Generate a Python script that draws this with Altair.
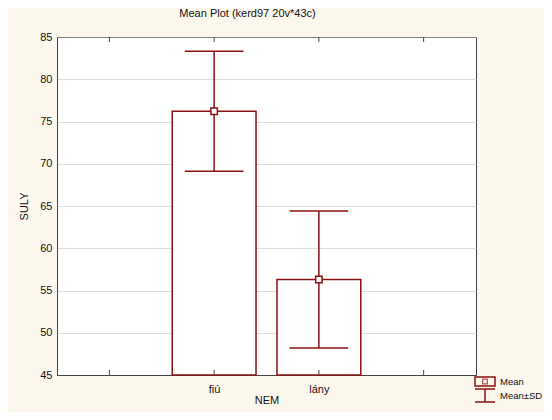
import altair as alt
import pandas as pd

# ---- data ----
categories = ["fiú", "lány"]
positions = [2, 3]
means = [76.2, 56.3]
sds = [7.1, 8.1]
tick_positions = [1, 2, 3, 4]
tick_labels = ["", "fiú", "lány", ""]
y_ticks = [45, 50, 55, 60, 65, 70, 75, 80, 85]
y_base = 45

BAR_HALF = 0.4
CAP_HALF = 0.28
RED = "#8b1010"
FONT = "Liberation Sans"

df = pd.DataFrame({"cat": categories, "pos": positions, "mean": means, "sd": sds})
df["lo"] = df["mean"] - df["sd"]
df["hi"] = df["mean"] + df["sd"]
df["x0"] = df["pos"] - BAR_HALF
df["x1"] = df["pos"] + BAR_HALF
df["c0"] = df["pos"] - CAP_HALF
df["c1"] = df["pos"] + CAP_HALF
df["base"] = y_base

ticks_df = pd.DataFrame({"pos": tick_positions, "label": tick_labels})

W, H = 419, 338
xs = alt.Scale(domain=[0.5, 4.5], nice=False, zero=False)
ys = alt.Scale(domain=[45, 85], nice=False, zero=False)

label_map = "{" + ",".join(f"'{p}':'{l}'" for p, l in zip(tick_positions, tick_labels)) + "}"

x_axis = alt.Axis(values=tick_positions, labelExpr=f"{label_map}[datum.value] || ''",
                  ticks=False, grid=False, domainColor="#444", labelPadding=8,
                  titlePadding=0)
y_axis = alt.Axis(values=y_ticks, ticks=False, grid=True, gridDash=[1, 1],
                  gridColor="#bdbdbd", domainColor="#444", labelPadding=5,
                  titlePadding=10)


def X(field):
    return alt.X(field, scale=xs, title="NEM", axis=x_axis)


def Y(field):
    return alt.Y(field, scale=ys, title="SULY", axis=y_axis)


base = alt.Chart(df)

bars = base.mark_bar(fill="white", stroke=RED, strokeWidth=1.5).encode(
    x=X("x0:Q"), x2="x1:Q", y=Y("mean:Q"), y2="base:Q",
)
err = base.mark_rule(color=RED, strokeWidth=1.5).encode(
    x=X("pos:Q"), y=Y("lo:Q"), y2="hi:Q",
)
cap_hi = base.mark_rule(color=RED, strokeWidth=1.5).encode(
    x=X("c0:Q"), x2="c1:Q", y=Y("hi:Q"),
)
cap_lo = base.mark_rule(color=RED, strokeWidth=1.5).encode(
    x=X("c0:Q"), x2="c1:Q", y=Y("lo:Q"),
)
pts = base.mark_point(shape="square", size=42, filled=True, fill="white",
                      stroke=RED, strokeWidth=1.5, opacity=1).encode(
    x=X("pos:Q"), y=Y("mean:Q"),
)

tick_base = alt.Chart(ticks_df)
top_ticks = tick_base.mark_rule(color="#444").encode(
    x=X("pos:Q"), y=alt.value(0), y2=alt.value(5))
bot_ticks = tick_base.mark_rule(color="#444").encode(
    x=X("pos:Q"), y=alt.value(H), y2=alt.value(H - 5))

# ---- hand-drawn legend (outside the plot, bottom right) ----
leg = alt.Chart(pd.DataFrame({"k": [0]}))
LX0, LX1, LXM, LT = 418, 438, 428, 443
leg_rect = leg.mark_rect(fill="white", fillOpacity=0, stroke=RED, strokeWidth=1.5).encode(
    x=alt.value(LX0), x2=alt.value(LX1), y=alt.value(H + 2), y2=alt.value(H + 11))
leg_sq = leg.mark_point(shape="square", size=22, filled=False, stroke=RED, strokeWidth=1.2).encode(
    x=alt.value(LXM), y=alt.value(H + 6.5))
leg_t1 = leg.mark_rule(color=RED, strokeWidth=1.5).encode(
    x=alt.value(LX0), x2=alt.value(LX1), y=alt.value(H + 14))
leg_v = leg.mark_rule(color=RED, strokeWidth=1.5).encode(
    x=alt.value(LXM), y=alt.value(H + 14), y2=alt.value(H + 27))
leg_t2 = leg.mark_rule(color=RED, strokeWidth=1.5).encode(
    x=alt.value(LX0), x2=alt.value(LX1), y=alt.value(H + 27))
leg_txt1 = leg.mark_text(align="left", baseline="middle", font=FONT, fontSize=9.5, color="#111").encode(
    x=alt.value(LT), y=alt.value(H + 6.5), text=alt.value("Mean"))
leg_txt2 = leg.mark_text(align="left", baseline="middle", font=FONT, fontSize=9.5, color="#111").encode(
    x=alt.value(LT), y=alt.value(H + 20.5), text=alt.value("Mean±SD"))

chart = alt.layer(
    bars, err, cap_hi, cap_lo, pts, top_ticks, bot_ticks,
    leg_rect, leg_sq, leg_t1, leg_v, leg_t2, leg_txt1, leg_txt2,
).properties(
    width=W, height=H,
    title=alt.TitleParams("Mean Plot (kerd97 20v*43c)", font=FONT, fontSize=11,
                          fontWeight="normal", color="#111", dx=-19, offset=12),
    autosize=alt.AutoSizeParams(type="none"),
    padding={"left": 49, "top": 29, "right": 68, "bottom": 37},
    background="#fdf8ed",
).configure_view(
    fill="white", stroke="#444", strokeWidth=1,
).configure_axis(
    labelFont=FONT, titleFont=FONT, labelFontSize=11, titleFontSize=11,
    titleFontWeight="normal", labelColor="#111", titleColor="#111",
)

chart.save("out.html", embed_options={"renderer": "svg", "actions": False})
